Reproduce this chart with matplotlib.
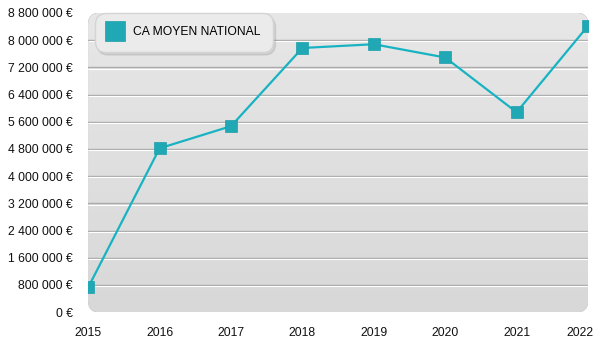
import numpy as np
import matplotlib
matplotlib.use("Agg")
import matplotlib.pyplot as plt
from matplotlib.patches import FancyBboxPatch
from matplotlib.ticker import FuncFormatter
from matplotlib.transforms import ScaledTranslation

plt.rcParams['font.family'] = ['Liberation Sans', 'DejaVu Sans']

# chiffre d'affaires moyen national par année
annees = [2015, 2016, 2017, 2018, 2019, 2020, 2021, 2022]
ca_moyen = [730000, 4820000, 5470000, 7770000, 7880000, 7490000, 5880000, 8420000]
serie = "CA MOYEN NATIONAL"
y_ticks = np.arange(0, 8800001, 800000)

teal = '#18b3c3'

fig = plt.figure(figsize=(6, 3.5), dpi=100)
ax = fig.add_axes([0.147, 0.108, 0.833, 0.855])
ax.patch.set_visible(False)

# fond arrondi en dégradé
fond = FancyBboxPatch((0, 0), 1, 1, boxstyle="round,pad=0,rounding_size=0.024",
                      mutation_aspect=500 / 300, transform=ax.transAxes,
                      facecolor='none', edgecolor='#c8c8c8', linewidth=0.8, zorder=0)
ax.add_patch(fond)
grad = np.linspace(0, 1, 256).reshape(-1, 1)
img = ax.imshow(grad, extent=(0, 1, 0, 1), transform=ax.transAxes, aspect='auto',
                cmap=matplotlib.colors.LinearSegmentedColormap.from_list('g', ['#d8d8d8', '#e7e7e7']),
                origin='lower', zorder=0)
img.set_clip_path(fond)

ax.set_xlim(annees[0], annees[-1])
ax.set_ylim(0, 8800000)

# lignes de grille avec reflet blanc
decal = ScaledTranslation(0, -1.2 / 100, fig.dpi_scale_trans)
for v in y_ticks[1:-1]:
    ax.axhline(v, color='#ababab', lw=1.0, zorder=1)
    ax.plot([0, 1], [v, v], transform=ax.get_yaxis_transform() + decal,
            color='white', lw=0.8, zorder=1, solid_capstyle='butt')

ax.plot(annees, ca_moyen, color=teal, lw=1.6, marker='s', markersize=8.5,
        markerfacecolor='#20a8b4', markeredgecolor='#1c9eaa', markeredgewidth=0.5,
        label=serie, zorder=3)

ax.set_xticks(annees)
ax.set_yticks(y_ticks)
ax.yaxis.set_major_formatter(FuncFormatter(lambda v, p: f"{int(v):,}".replace(',', ' ') + " €"))
ax.tick_params(length=0, labelsize=8.7, colors='#111111')
ax.tick_params(axis='y', pad=11)
ax.tick_params(axis='x', pad=11)
for s in ax.spines.values():
    s.set_visible(False)

# dernière année légèrement décalée pour rester dans la figure
dernier = ax.get_xticklabels()[-1]
dernier.set_transform(dernier.get_transform() + ScaledTranslation(-0.08, 0, fig.dpi_scale_trans))

leg = ax.legend(loc='upper left', bbox_to_anchor=(0.014, 1.0), fontsize=8.7,
                frameon=True, fancybox=True, shadow={'alpha': 0.12, 'ox': 1.5, 'oy': -2.5},
                borderpad=1.1, handletextpad=0.9, handlelength=1.1, markerscale=1.65,
                borderaxespad=0.0)
for h in leg.legend_handles:
    h.set_linestyle('none')
leg.get_frame().set_facecolor('#ebebeb')
leg.get_frame().set_edgecolor('#d4d4d4')
leg.get_frame().set_alpha(1)
leg.get_frame().set_boxstyle('round,pad=0,rounding_size=0.9')

fig.savefig('out.png', dpi=100)
